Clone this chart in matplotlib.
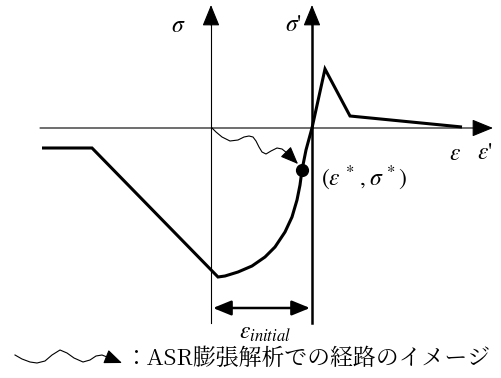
import matplotlib.pyplot as plt

plt.rcParams['font.family'] = ['Noto Sans CJK JP', 'DejaVu Sans']
plt.rcParams['mathtext.fontset'] = 'stix'

# 図の座標（ピクセル単位、y は下向き）
curve_x = [42, 92, 218, 225, 238, 252, 265, 275, 285, 292, 297, 300, 302, 306, 312, 325, 350, 462]
curve_y = [148, 148, 277, 276, 272, 266, 257, 247, 232, 217, 200, 185, 170, 150, 128, 69, 116, 127]
point_star = (302, 170)

wave_x = [212, 216, 222, 230, 238, 244, 249, 253, 256, 259, 262, 266, 271, 277, 282, 287]
wave_y = [128, 132, 137, 141, 140, 137, 136, 137, 141, 147, 152, 154, 151, 148, 149, 153]
wave_tip = (298, 164)

legend_wave_x = [15, 22, 30, 37, 45, 52, 60, 67, 74, 83, 90, 96, 102, 107]
legend_wave_y = [355, 359, 362, 363, 361, 355, 350, 353, 358, 362, 360, 356, 355, 357]
legend_tip = (122, 363)

axis_y = 128
sigma_x = 211
sigma_p_x = 312
dim_y = 308

fig = plt.figure(figsize=(5.02, 3.78), dpi=100)
ax = fig.add_axes([0, 0, 1, 1])
ax.set_xlim(0, 502)
ax.set_ylim(378, 0)
ax.axis('off')

head = dict(arrowstyle='-|>,head_length=1.1,head_width=0.45', color='black', shrinkA=0, shrinkB=0)

# 横軸
ax.annotate('', xy=(493, axis_y), xytext=(40, axis_y), arrowprops=dict(head, lw=0.8, mutation_scale=12))
# σ 軸（細）
ax.plot([sigma_x, sigma_x], [323, 20], color='black', lw=0.8)
ax.annotate('', xy=(sigma_x, 5), xytext=(sigma_x, 25), arrowprops=dict(head, lw=0.8, mutation_scale=12))
# σ' 軸（太）
ax.plot([sigma_p_x, sigma_p_x], [323, 20], color='black', lw=1.8)
ax.annotate('', xy=(sigma_p_x, 5), xytext=(sigma_p_x, 25), arrowprops=dict(head, lw=0.8, mutation_scale=12))

# 応力-ひずみ曲線
ax.plot(curve_x, curve_y, color='black', lw=2.2, solid_joinstyle='miter', solid_capstyle='butt')
ax.plot([point_star[0]], [point_star[1]], 'o', color='black', ms=8.5)

# ASR膨張の経路
ax.plot(wave_x, wave_y, color='black', lw=0.8)
ax.annotate('', xy=wave_tip, xytext=(wave_x[-1], wave_y[-1]),
            arrowprops=dict(head, lw=0.8, mutation_scale=10))

# ε_initial の寸法線
ax.annotate('', xy=(310, dim_y), xytext=(213, dim_y),
            arrowprops=dict(arrowstyle='<|-|>,head_length=1.1,head_width=0.45', color='black',
                            lw=1.8, shrinkA=0, shrinkB=0, mutation_scale=10))

# ラベル
ax.text(178, 25, r'$\sigma$', fontsize=17, ha='center', va='center')
ax.text(293, 25, r"$\sigma$'", fontsize=17, ha='center', va='center', family='STIXGeneral')
ax.text(455, 153, r'$\varepsilon$', fontsize=17, ha='center', va='center')
ax.text(485, 153, r"$\varepsilon$'", fontsize=17, ha='center', va='center', family='STIXGeneral')
ax.text(321, 178, r'$(\varepsilon^{\,*}\,,\sigma^{\,*})$', fontsize=17, ha='left', va='center')
ax.text(265, 332, r'$\varepsilon_{initial}$', fontsize=17, ha='center', va='center')

# 凡例
ax.plot(legend_wave_x, legend_wave_y, color='black', lw=0.8)
ax.annotate('', xy=legend_tip, xytext=(legend_wave_x[-1], legend_wave_y[-1]),
            arrowprops=dict(head, lw=0.8, mutation_scale=10))
ax.text(124, 359, '：ASR膨張解析での経路のイメージ', fontsize=16.5, ha='left', va='center',
        family=['Noto Serif CJK JP', 'Noto Sans CJK JP', 'DejaVu Sans'])

fig.savefig('out.png', dpi=100)
